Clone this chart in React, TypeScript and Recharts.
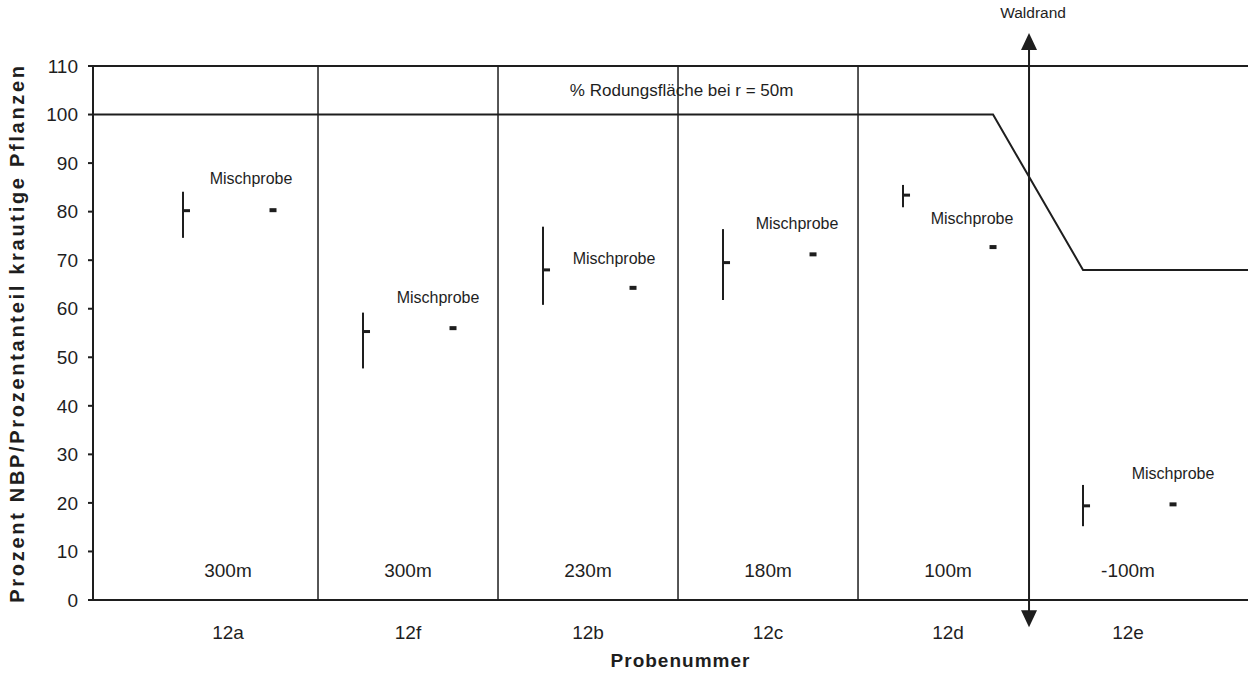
import { ComposedChart, XAxis, YAxis, Line, Scatter, ErrorBar, ReferenceLine, ReferenceDot } from 'recharts'

const INK = '#1e1e1e'
const FONT = '"Liberation Sans", Arial, sans-serif'

const groups = ['12a', '12f', '12b', '12c', '12d', '12e']
const distances = ['300m', '300m', '230m', '180m', '100m', '-100m']

// single samples per site: upper / lower / mean
const sampleHigh = [84.1, 59.2, 76.9, 76.4, 85.5, 23.7]
const sampleLow = [74.6, 47.7, 60.8, 61.8, 80.9, 15.2]
const sampleMean = [80.2, 55.3, 68.0, 69.5, 83.4, 19.4]

// composite sample per site
const mischprobe = [80.3, 56.0, 64.3, 71.2, 72.7, 19.7]

// share of clearing within r = 50m
const clearingSlot = [-1, 9, 10, 12]
const clearingPct = [100, 100, 68, 68]

const yTicks = [0, 10, 20, 30, 40, 50, 60, 70, 80, 90, 100, 110]

// where the "Mischprobe" captions sit relative to their dash (px)
const mischLabelDx = [-22, -15, -19, -16, -21, 0]
const mischLabelDy = [-32, -31, -29, -31, -29, -31]

// each site takes two slots: sample at 2i, composite at 2i + 1
const sampleRows = groups.map((g, i) => ({
  slot: 2 * i,
  mean: sampleMean[i],
  range: [sampleMean[i] - sampleLow[i], sampleHigh[i] - sampleMean[i]],
}))

const mischRows = groups.map((g, i) => ({
  slot: 2 * i + 1,
  value: mischprobe[i],
  labelDx: mischLabelDx[i],
  labelDy: mischLabelDy[i],
}))

const clearingRows = clearingSlot.map((s, i) => ({ slot: s, pct: clearingPct[i] }))

const siteCenters = groups.map((g, i) => 2 * i + 0.5)
const dividers = [1.5, 3.5, 5.5, 7.5]
const waldrandSlot = 9.4

function MeanTick(props: any) {
  const { cx, cy } = props
  return <rect x={cx} y={cy - 1.5} width={7} height={3} fill={INK} />
}

function MischDash(props: any) {
  const { cx, cy, payload } = props
  return (
    <g>
      <rect x={cx - 3.5} y={cy - 2} width={7} height={4} fill={INK} />
      <text
        x={cx + payload.labelDx}
        y={cy + payload.labelDy}
        textAnchor="middle"
        dominantBaseline="central"
        fontSize={16}
        fill={INK}
      >
        Mischprobe
      </text>
    </g>
  )
}

function WaldrandArrow(props: any) {
  const { x1, y1, y2 } = props
  const top = Math.min(y1, y2)
  const bottom = Math.max(y1, y2)
  const x = x1
  return (
    <g>
      <line x1={x} y1={top + 6} x2={x} y2={bottom - 6} stroke={INK} strokeWidth={2} />
      <path d={`M${x} ${top} L${x - 8} ${top + 17} L${x + 8} ${top + 17} Z`} fill={INK} />
      <path d={`M${x} ${bottom} L${x - 8} ${bottom - 17} L${x + 8} ${bottom - 17} Z`} fill={INK} />
      <text x={x + 4} y={top - 15} textAnchor="middle" fontSize={15.5} fill={INK}>
        Waldrand
      </text>
    </g>
  )
}

export default function App() {
  return (
    <div style={{ position: 'absolute', left: 0, top: 0, background: '#fff', fontFamily: FONT }}>
      <ComposedChart width={1248} height={674} margin={{ top: 66, right: 0, bottom: 0, left: 0 }}>
        <XAxis
          type="number"
          dataKey="slot"
          domain={[-1, 11.833]}
          allowDataOverflow
          ticks={siteCenters}
          tickFormatter={(v: number) => groups[Math.round((v - 0.5) / 2)]}
          tickLine={false}
          tickSize={0}
          tickMargin={26}
          height={74}
          axisLine={{ stroke: INK, strokeWidth: 2 }}
          tick={{ fill: INK, fontSize: 19 }}
          label={{
            value: 'Probenummer',
            position: 'insideBottom',
            offset: 7,
            dx: 10,
            fill: INK,
            fontSize: 19,
            fontWeight: 'bold',
            letterSpacing: 1,
          }}
        />
        <YAxis
          type="number"
          domain={[0, 110]}
          ticks={yTicks}
          interval={0}
          width={93}
          tickSize={5}
          tickMargin={10}
          axisLine={{ stroke: INK, strokeWidth: 2 }}
          tickLine={{ stroke: INK, strokeWidth: 2 }}
          tick={{ fill: INK, fontSize: 19 }}
          label={{
            value: 'Prozent NBP/Prozentanteil krautige Pflanzen',
            angle: -90,
            position: 'insideLeft',
            offset: 17,
            style: { textAnchor: 'middle' },
            fill: INK,
            fontSize: 20,
            fontWeight: 'bold',
            letterSpacing: 2.7,
          }}
        />

        <ReferenceLine y={110} stroke={INK} strokeWidth={2} />
        {dividers.map((d) => (
          <ReferenceLine key={d} x={d} stroke={INK} strokeWidth={1.5} />
        ))}

        <Line
          data={clearingRows}
          dataKey="pct"
          stroke={INK}
          strokeWidth={2}
          dot={false}
          type="linear"
          isAnimationActive={false}
        />

        <Scatter data={sampleRows} dataKey="mean" shape={MeanTick} isAnimationActive={false}>
          <ErrorBar dataKey="range" direction="y" width={0} stroke={INK} strokeWidth={2} />
        </Scatter>
        <Scatter data={mischRows} dataKey="value" shape={MischDash} isAnimationActive={false} />

        {siteCenters.map((c, i) => (
          <ReferenceDot
            key={groups[i]}
            x={c}
            y={6.2}
            r={0}
            fill="none"
            stroke="none"
            label={{ value: distances[i], position: 'center', fill: INK, fontSize: 19 }}
          />
        ))}
        <ReferenceDot
          x={5.54}
          y={105}
          r={0}
          fill="none"
          stroke="none"
          label={{ value: '% Rodungsfläche bei r = 50m', position: 'center', fill: INK, fontSize: 17 }}
        />

        <ReferenceLine
          segment={[
            { x: waldrandSlot, y: -5.6 },
            { x: waldrandSlot, y: 116.8 },
          ]}
          ifOverflow="visible"
          shape={WaldrandArrow}
        />
      </ComposedChart>
    </div>
  )
}
